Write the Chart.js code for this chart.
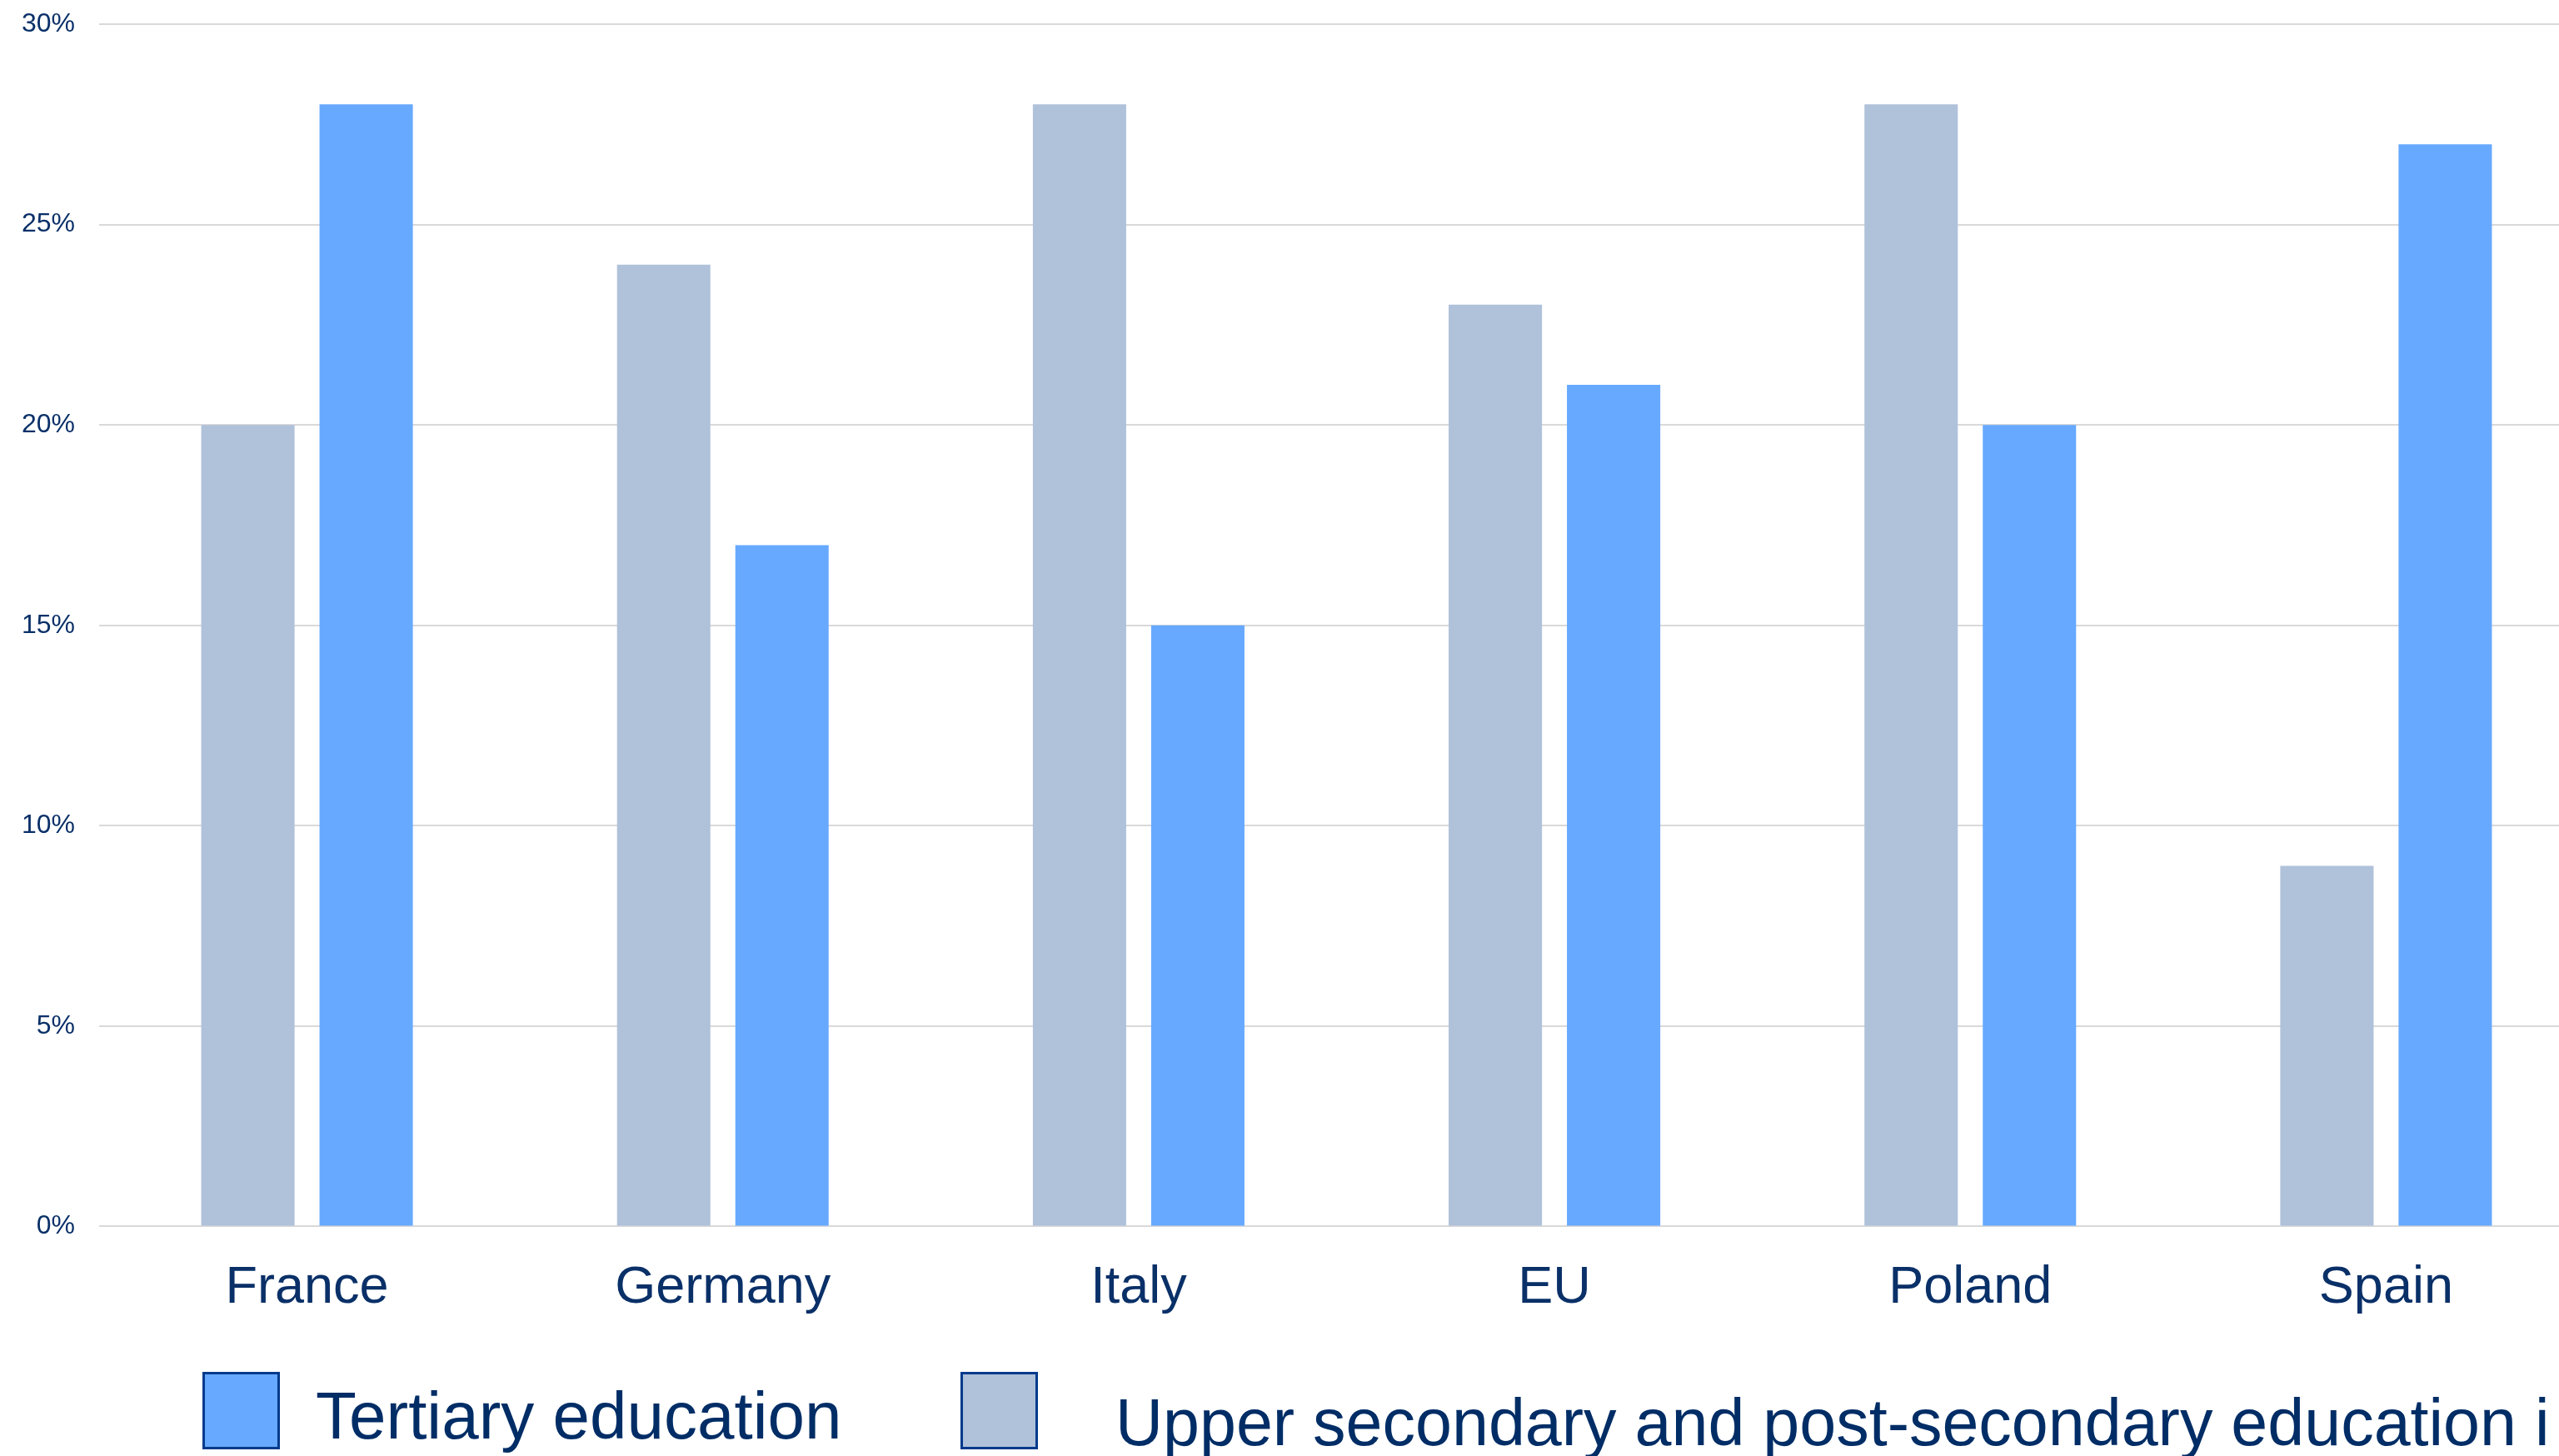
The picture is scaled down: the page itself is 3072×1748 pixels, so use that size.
<!DOCTYPE html>
<html>
<head>
<meta charset="utf-8">
<script src="https://cdn.jsdelivr.net/npm/chart.js@4/dist/chart.umd.min.js"></script>
<style>
  html, body { margin: 0; padding: 0; background: #ffffff; overflow: hidden; width: 3072px; height: 1748px; }
  canvas { display: block; position: absolute; left: 0; top: 0; }
</style>
</head>
<body>
<canvas id="chart" width="3140" height="1800" style="width:3140px;height:1800px"></canvas>
<script>
// Share of people by education level, per country
const categories = ['France', 'Germany', 'Italy', 'EU', 'Poland', 'Spain'];
const upperSecondary = [20, 24, 28, 23, 28, 9];
const tertiary = [28, 17, 15, 21, 20, 27];
const yTicks = [0, 5, 10, 15, 20, 25, 30];
const seriesNames = ['Upper secondary and post-secondary education i', 'Tertiary education'];

const NAVY = '#0a3068';
const FONT = '"Liberation Sans", Arial, Helvetica, sans-serif';

// Square-swatch legend drawn below the axis
const boxLegend = {
  id: 'boxLegend',
  afterDraw(chart, args, opts) {
    const ctx = chart.ctx;
    ctx.save();
    opts.items.forEach(it => {
      const ds = chart.data.datasets[it.dataset];
      ctx.fillStyle = ds.backgroundColor;
      ctx.fillRect(it.boxX, opts.boxY, opts.boxSize, opts.boxSize);
      ctx.lineWidth = 3;
      ctx.strokeStyle = opts.boxBorder;
      ctx.strokeRect(it.boxX + 1.5, opts.boxY + 1.5, opts.boxSize - 3, opts.boxSize - 3);
      ctx.fillStyle = opts.color;
      ctx.font = it.fontSize + 'px ' + FONT;
      ctx.textAlign = 'left';
      ctx.textBaseline = 'alphabetic';
      ctx.fillText(ds.label, it.textX, it.baseline);
    });
    ctx.restore();
  }
};

new Chart(document.getElementById('chart'), {
  type: 'bar',
  data: {
    labels: categories,
    datasets: [
      { label: seriesNames[0], data: upperSecondary, backgroundColor: '#b0c1da', borderWidth: 0 },
      { label: seriesNames[1], data: tertiary, backgroundColor: '#67a9ff', borderWidth: 0 }
    ]
  },
  options: {
    responsive: false,
    animation: false,
    devicePixelRatio: 1,
    categoryPercentage: 0.569,
    barPercentage: 0.789,
    layout: { padding: { left: 0, top: 29, right: 26, bottom: 180 } },
    plugins: {
      legend: { display: false },
      tooltip: { enabled: false },
      boxLegend: {
        boxY: 1647,
        boxSize: 93,
        boxBorder: '#003a8c',
        color: '#002d66',
        items: [
          { dataset: 1, boxX: 243, textX: 379, baseline: 1727, fontSize: 80 },
          { dataset: 0, boxX: 1153, textX: 1339, baseline: 1735, fontSize: 79 }
        ]
      }
    },
    scales: {
      x: {
        grid: { display: false, drawTicks: false },
        border: { display: false },
        ticks: { color: NAVY, font: { family: FONT, size: 63 }, padding: 36, maxRotation: 0 }
      },
      y: {
        min: 0,
        max: 30,
        afterBuildTicks(scale) { scale.ticks = yTicks.map(v => ({ value: v })); },
        afterFit(scale) {
          scale.width = 119;
          scale.paddingTop = 0;
          scale.paddingBottom = 0;
        },
        grid: { color: '#d9d9d9', lineWidth: 2, drawTicks: false },
        border: { display: false },
        ticks: { color: NAVY, font: { family: FONT, size: 32 }, padding: 29, callback: v => v + '%' }
      }
    }
  },
  plugins: [boxLegend]
});
</script>
</body>
</html>
